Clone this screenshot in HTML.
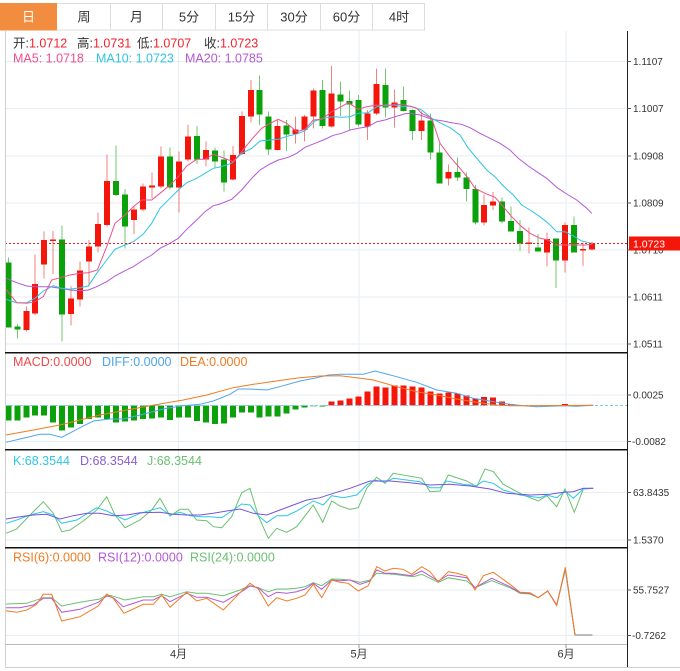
<!DOCTYPE html>
<html><head><meta charset="utf-8"><style>
html,body{margin:0;padding:0;background:#fff;}
svg{display:block;font-family:"Liberation Sans","Noto Sans CJK SC",sans-serif;}
.g{stroke:#e6edf3;stroke-width:1;}
.r{fill:#f4160b;}
.gr{fill:#0ba10b;}
.rw{stroke:#f2827c;stroke-width:1;}
.gw{stroke:#72c872;stroke-width:1;}
.ax{font-size:10px;fill:#333;}
.lg{font-size:12.5px;}
</style></head><body>
<svg width="680" height="671" viewBox="0 0 680 671" xmlns="http://www.w3.org/2000/svg">
<rect x="0" y="0" width="680" height="671" fill="#fff"/>
<!-- Tabs -->
<g shape-rendering="crispEdges">
<rect x="0.5" y="3.5" width="424" height="26.5" fill="#fff" stroke="#dcdcdc"/>
<rect x="0" y="3" width="57" height="27.5" fill="#f28d40"/>
<line x1="110.5" y1="4" x2="110.5" y2="30" stroke="#dcdcdc"/>
<line x1="162.5" y1="4" x2="162.5" y2="30" stroke="#dcdcdc"/>
<line x1="215.5" y1="4" x2="215.5" y2="30" stroke="#dcdcdc"/>
<line x1="267.5" y1="4" x2="267.5" y2="30" stroke="#dcdcdc"/>
<line x1="320.5" y1="4" x2="320.5" y2="30" stroke="#dcdcdc"/>
<line x1="372.5" y1="4" x2="372.5" y2="30" stroke="#dcdcdc"/>
</g>
<g font-size="13" text-anchor="middle">
<text x="28.5" y="21.5" fill="#fff">日</text>
<text x="84" y="21.5" fill="#333">周</text>
<text x="136.5" y="21.5" fill="#333">月</text>
<text x="189" y="21.5" fill="#333">5分</text>
<text x="241.5" y="21.5" fill="#333">15分</text>
<text x="294" y="21.5" fill="#333">30分</text>
<text x="346.5" y="21.5" fill="#333">60分</text>
<text x="399" y="21.5" fill="#333">4时</text>
</g>

<!-- Grid -->
<g shape-rendering="crispEdges">
<line class="g" x1="5" y1="61.7" x2="627" y2="61.7"/>
<line class="g" x1="5" y1="108.7" x2="627" y2="108.7"/>
<line class="g" x1="5" y1="156" x2="627" y2="156"/>
<line class="g" x1="5" y1="203" x2="627" y2="203"/>
<line class="g" x1="5" y1="249.8" x2="627" y2="249.8"/>
<line class="g" x1="5" y1="297" x2="627" y2="297"/>
<line class="g" x1="5" y1="344" x2="627" y2="344"/>
<line class="g" x1="5" y1="395" x2="627" y2="395"/>
<line class="g" x1="5" y1="441.7" x2="627" y2="441.7"/>
<line class="g" x1="5" y1="492.3" x2="627" y2="492.3"/>
<line class="g" x1="5" y1="540" x2="627" y2="540"/>
<line class="g" x1="5" y1="590" x2="627" y2="590"/>
<line class="g" x1="5" y1="635.7" x2="627" y2="635.7"/>
<line class="g" x1="178.5" y1="31" x2="178.5" y2="644"/>
<line class="g" x1="359" y1="31" x2="359" y2="644"/>
<line class="g" x1="566" y1="31" x2="566" y2="644"/>
</g>

<!-- Candles -->
<g shape-rendering="crispEdges">
<line class="gw" x1="8.3" y1="257.3" x2="8.3" y2="327.7"/><rect class="gr" x="5.3" y="262.7" width="6" height="65"/>
<line class="gw" x1="17.3" y1="324" x2="17.3" y2="338.3"/><rect class="gr" x="14.3" y="326.7" width="6" height="2.6"/>
<line class="rw" x1="26.3" y1="306.7" x2="26.3" y2="331.7"/><rect class="r" x="23.3" y="311" width="6" height="19"/>
<line class="rw" x1="35.2" y1="254.3" x2="35.2" y2="315"/><rect class="r" x="32.2" y="284" width="6" height="29.3"/>
<line class="rw" x1="44.2" y1="231.7" x2="44.2" y2="278.3"/><rect class="r" x="41.2" y="240" width="6" height="24.3"/>
<line class="rw" x1="53.2" y1="231" x2="53.2" y2="274"/><rect class="r" x="50.2" y="239.3" width="6" height="1.6"/>
<line class="gw" x1="62.2" y1="225.7" x2="62.2" y2="341.7"/><rect class="gr" x="59.2" y="239.3" width="6" height="75"/>
<line class="rw" x1="71.2" y1="286" x2="71.2" y2="325.7"/><rect class="r" x="68.2" y="298.3" width="6" height="15.7"/>
<line class="rw" x1="80.1" y1="261.7" x2="80.1" y2="306.7"/><rect class="r" x="77.1" y="270.7" width="6" height="28.6"/>
<line class="rw" x1="89.1" y1="240" x2="89.1" y2="286.7"/><rect class="r" x="86.1" y="246.7" width="6" height="15"/>
<line class="rw" x1="98.1" y1="212.7" x2="98.1" y2="252.7"/><rect class="r" x="95.1" y="224" width="6" height="22.7"/>
<line class="rw" x1="107.1" y1="154.3" x2="107.1" y2="226.7"/><rect class="r" x="104.1" y="181" width="6" height="44"/>
<line class="gw" x1="116.1" y1="145.7" x2="116.1" y2="196"/><rect class="gr" x="113.1" y="181" width="6" height="14"/>
<line class="gw" x1="125" y1="189" x2="125" y2="248.3"/><rect class="gr" x="122" y="194.3" width="6" height="32.4"/>
<line class="rw" x1="134" y1="206.7" x2="134" y2="234"/><rect class="r" x="131" y="209.3" width="6" height="10.7"/>
<line class="rw" x1="143" y1="183.3" x2="143" y2="211.7"/><rect class="r" x="140" y="186.7" width="6" height="22.6"/>
<line class="rw" x1="152" y1="172.7" x2="152" y2="198.3"/><rect class="r" x="149" y="185.7" width="6" height="2"/>
<line class="rw" x1="161" y1="146.7" x2="161" y2="188.3"/><rect class="r" x="158" y="156.7" width="6" height="30"/>
<line class="gw" x1="169.9" y1="147.3" x2="169.9" y2="189.3"/><rect class="gr" x="166.9" y="156.7" width="6" height="30.6"/>
<line class="rw" x1="178.9" y1="151.7" x2="178.9" y2="212.7"/><rect class="r" x="175.9" y="161.7" width="6" height="26"/>
<line class="rw" x1="187.9" y1="124.3" x2="187.9" y2="161.7"/><rect class="r" x="184.9" y="136.7" width="6" height="22.6"/>
<line class="gw" x1="196.9" y1="126" x2="196.9" y2="164"/><rect class="gr" x="193.9" y="136" width="6" height="23.3"/>
<line class="rw" x1="205.9" y1="141.7" x2="205.9" y2="166.7"/><rect class="r" x="202.9" y="150" width="6" height="9.3"/>
<line class="gw" x1="214.8" y1="147.3" x2="214.8" y2="168.3"/><rect class="gr" x="211.8" y="150.7" width="6" height="11"/>
<line class="gw" x1="223.8" y1="150.7" x2="223.8" y2="191.7"/><rect class="gr" x="220.8" y="159.3" width="6" height="23.4"/>
<line class="rw" x1="232.8" y1="146" x2="232.8" y2="180.7"/><rect class="r" x="229.8" y="155" width="6" height="24.3"/>
<line class="rw" x1="241.8" y1="111.7" x2="241.8" y2="155"/><rect class="r" x="238.8" y="116" width="6" height="38"/>
<line class="rw" x1="250.8" y1="80" x2="250.8" y2="122.7"/><rect class="r" x="247.8" y="90" width="6" height="26.7"/>
<line class="gw" x1="259.7" y1="75.7" x2="259.7" y2="125"/><rect class="gr" x="256.7" y="90" width="6" height="24.3"/>
<line class="gw" x1="268.7" y1="111.7" x2="268.7" y2="155"/><rect class="gr" x="265.7" y="116.7" width="6" height="32.6"/>
<line class="rw" x1="277.7" y1="119.3" x2="277.7" y2="150.7"/><rect class="r" x="274.7" y="126" width="6" height="24"/>
<line class="gw" x1="286.7" y1="120" x2="286.7" y2="151"/><rect class="gr" x="283.7" y="125.7" width="6" height="8.6"/>
<line class="rw" x1="295.6" y1="116.7" x2="295.6" y2="143.3"/><rect class="r" x="292.6" y="129.3" width="6" height="4.7"/>
<line class="rw" x1="304.6" y1="115" x2="304.6" y2="141.7"/><rect class="r" x="301.6" y="116.7" width="6" height="13.3"/>
<line class="rw" x1="313.6" y1="88.3" x2="313.6" y2="128.3"/><rect class="r" x="310.6" y="90.7" width="6" height="26"/>
<line class="gw" x1="322.6" y1="80" x2="322.6" y2="128.3"/><rect class="gr" x="319.6" y="90" width="6" height="36"/>
<line class="rw" x1="331.6" y1="66" x2="331.6" y2="127.7"/><rect class="r" x="328.6" y="93.3" width="6" height="33.4"/>
<line class="gw" x1="340.6" y1="81.7" x2="340.6" y2="116"/><rect class="gr" x="337.6" y="94.3" width="6" height="7.4"/>
<line class="gw" x1="349.5" y1="90.7" x2="349.5" y2="130"/><rect class="gr" x="346.5" y="101" width="6" height="3.3"/>
<line class="gw" x1="358.5" y1="95" x2="358.5" y2="126.7"/><rect class="gr" x="355.5" y="100" width="6" height="24.3"/>
<line class="rw" x1="367.5" y1="110" x2="367.5" y2="140"/><rect class="r" x="364.5" y="113.3" width="6" height="13.4"/>
<line class="rw" x1="376.5" y1="68.3" x2="376.5" y2="115"/><rect class="r" x="373.5" y="84" width="6" height="29.3"/>
<line class="gw" x1="385.5" y1="68.3" x2="385.5" y2="117.7"/><rect class="gr" x="382.5" y="85" width="6" height="22.7"/>
<line class="rw" x1="394.4" y1="89.3" x2="394.4" y2="127.7"/><rect class="r" x="391.4" y="102.7" width="6" height="4.6"/>
<line class="gw" x1="403.4" y1="86.7" x2="403.4" y2="111.7"/><rect class="gr" x="400.4" y="100" width="6" height="11"/>
<line class="gw" x1="412.4" y1="109.3" x2="412.4" y2="140"/><rect class="gr" x="409.4" y="110" width="6" height="21"/>
<line class="rw" x1="421.4" y1="111.7" x2="421.4" y2="140"/><rect class="r" x="418.4" y="120.7" width="6" height="10.3"/>
<line class="gw" x1="430.4" y1="113.3" x2="430.4" y2="159.3"/><rect class="gr" x="427.4" y="120.7" width="6" height="31.6"/>
<line class="gw" x1="439.3" y1="143.3" x2="439.3" y2="183.7"/><rect class="gr" x="436.3" y="152.3" width="6" height="31.4"/>
<line class="rw" x1="448.3" y1="164.3" x2="448.3" y2="185.3"/><rect class="r" x="445.3" y="172" width="6" height="6.7"/>
<line class="gw" x1="457.3" y1="157.3" x2="457.3" y2="181"/><rect class="gr" x="454.3" y="172" width="6" height="5.7"/>
<line class="gw" x1="466.3" y1="172.7" x2="466.3" y2="201.7"/><rect class="gr" x="463.3" y="177.3" width="6" height="11.7"/>
<line class="gw" x1="475.3" y1="185" x2="475.3" y2="224.3"/><rect class="gr" x="472.3" y="189" width="6" height="33.3"/>
<line class="rw" x1="484.2" y1="194.3" x2="484.2" y2="225.7"/><rect class="r" x="481.2" y="205" width="6" height="17.3"/>
<line class="rw" x1="493.2" y1="192" x2="493.2" y2="210"/><rect class="r" x="490.2" y="201.3" width="6" height="4.4"/>
<line class="gw" x1="502.2" y1="197.3" x2="502.2" y2="223.3"/><rect class="gr" x="499.2" y="201.3" width="6" height="20.4"/>
<line class="gw" x1="511.2" y1="206.7" x2="511.2" y2="231.7"/><rect class="gr" x="508.2" y="221" width="6" height="10.7"/>
<line class="gw" x1="520.2" y1="220" x2="520.2" y2="251"/><rect class="gr" x="517.2" y="231" width="6" height="12.3"/>
<line class="rw" x1="529.1" y1="227.7" x2="529.1" y2="253.3"/><rect class="r" x="526.1" y="242.3" width="6" height="1.6"/>
<line class="gw" x1="538.1" y1="234" x2="538.1" y2="251.7"/><rect class="gr" x="535.1" y="247.3" width="6" height="4.4"/>
<line class="rw" x1="547.1" y1="232.7" x2="547.1" y2="266.7"/><rect class="r" x="544.1" y="239" width="6" height="13.3"/>
<line class="gw" x1="556.1" y1="238.3" x2="556.1" y2="288"/><rect class="gr" x="553.1" y="238.3" width="6" height="22.4"/>
<line class="rw" x1="565.1" y1="222.3" x2="565.1" y2="272.3"/><rect class="r" x="562.1" y="225" width="6" height="35.7"/>
<line class="gw" x1="574" y1="216.7" x2="574" y2="252.7"/><rect class="gr" x="571" y="225" width="6" height="27.7"/>
<line class="rw" x1="583" y1="242.7" x2="583" y2="266"/><rect class="r" x="580" y="249" width="6" height="1.6"/>
<line class="rw" x1="592" y1="241.7" x2="592" y2="250.7"/><rect class="r" x="589" y="243.3" width="6" height="6"/>
</g>

<!-- MA lines -->
<g fill="none" stroke-width="1">
<polyline stroke="#b458d6" points="6,278.3 16.7,282.7 26.7,286 36.7,286.7 50,286.7 60,288.3 70,290 80,290.7 88.3,290 96.7,286.7 106.7,281.7 115,276 125,270.7 133.3,266.7 143.3,260 151.7,255 160,248.3 170,243.3 178.3,238.3 186.7,229.3 196.7,220 205,211.7 213.3,205.7 220,204 231.7,199.3 241.7,190 251.7,178.3 260,170 270,164 278.3,160 288.3,157.3 296.7,153.3 305,147.3 315,143.3 323.3,140 333.3,135.3 341.7,133.3 350,130 358.3,128.3 368.3,126.7 376.7,121.7 385,120 395,116.7 405,113.8 410,113.3 420,115 431.7,119.3 441.7,120.7 451.7,122.7 461.7,124.3 470,127.7 480,133.3 490,138.3 500,143.3 510,150 518.3,158.3 528.3,166 536.7,171.7 546.7,178.3 556.7,187.3 566.7,194 576.7,200 586.7,208.3 591.7,213.3"/>
<polyline stroke="#2fc5e2" points="6,299.3 16.7,302.7 26.7,302.7 35,298.3 43.3,291 53.3,285.7 61.7,288.3 70,289.3 80,287.7 88.3,286 96.7,273.3 106.7,260 115,249.3 125,245 133.3,241.7 143.3,234 151.7,223.3 160,208.3 170,198.3 178.3,190 186.7,182.7 196.7,178.3 205,173.3 213.3,168.3 220,167 231.7,163.3 241.7,153.3 251.7,148.3 260,141 270,140 278.3,139.3 288.3,136 296.7,134 305,130.7 315,121 323.3,118.3 333.3,116.7 341.7,117.3 350,116.7 358.3,113.3 368.3,112.7 376.7,106.7 385,105 393.3,105 403.3,106.7 410,106 421.7,110 431.7,118.3 440,122.7 450,127.7 460,135 468.3,148.3 478.3,160 486.7,170 495,176.7 503.3,186 513.3,195 521.7,205 530,210 540,216.7 548.3,223.3 556.7,231.7 565,231.7 573.3,236 581.7,241 591.7,243.3"/>
<polyline stroke="#f0508c" points="6,289.3 16.7,302.7 26.7,303.3 35,301.7 43.3,296.7 51.7,280 61.7,277.3 70,275 80,273.3 88.3,272.7 97.3,270 106.7,246.7 115,223.3 125,215 133.3,206.7 141.7,200 151.7,200 160,193.3 170,185 178.3,176.7 186.7,166 196.7,159.3 205,159.3 213.3,154.3 220,156.7 233.3,161.7 241.7,151.7 251.7,139.3 261.7,128.3 270,123.3 278.3,119.3 286.7,123.3 296.7,131.7 305,129.3 313.3,120 321.7,119.3 331.7,111.7 340,107.3 348.3,102.7 358.3,109.3 366.7,106.7 376.7,105 386.7,106 395,104 405,105 416.7,108.3 421.7,113.3 431.7,118.3 440,143.3 450,156.7 460,168.3 468.3,178.3 475,188.3 485,193.3 495,197.3 503.3,206.7 511.7,216.7 521.7,226.7 530,233.3 540,238.3 548.3,240 556.7,245 566.7,245 575,245 585,245 591.7,244.3"/>
</g>

<!-- Current price dotted line -->
<line x1="5" y1="243.5" x2="627" y2="243.5" stroke="#e02020" stroke-width="1" stroke-dasharray="2,2"/>

<!-- MACD -->
<g shape-rendering="crispEdges">
<rect class="gr" x="5.3" y="405.5" width="6" height="15.2"/>
<rect class="gr" x="14.3" y="405.5" width="6" height="15.2"/>
<rect class="gr" x="23.3" y="405.5" width="6" height="12.2"/>
<rect class="gr" x="32.2" y="405.5" width="6" height="10.2"/>
<rect class="gr" x="41.2" y="405.5" width="6" height="10.2"/>
<rect class="gr" x="50.2" y="405.5" width="6" height="16.8"/>
<rect class="gr" x="59.2" y="405.5" width="6" height="25.2"/>
<rect class="gr" x="68.2" y="405.5" width="6" height="22.2"/>
<rect class="gr" x="77.1" y="405.5" width="6" height="18.5"/>
<rect class="gr" x="86.1" y="405.5" width="6" height="13.5"/>
<rect class="gr" x="95.1" y="405.5" width="6" height="12.2"/>
<rect class="gr" x="104.1" y="405.5" width="6" height="13.5"/>
<rect class="gr" x="113.1" y="405.5" width="6" height="17.2"/>
<rect class="gr" x="122" y="405.5" width="6" height="16.2"/>
<rect class="gr" x="131" y="405.5" width="6" height="15.2"/>
<rect class="gr" x="140" y="405.5" width="6" height="13.5"/>
<rect class="gr" x="149" y="405.5" width="6" height="12.8"/>
<rect class="gr" x="158" y="405.5" width="6" height="11.8"/>
<rect class="gr" x="166.9" y="405.5" width="6" height="14.5"/>
<rect class="gr" x="175.9" y="405.5" width="6" height="12.2"/>
<rect class="gr" x="184.9" y="405.5" width="6" height="12.2"/>
<rect class="gr" x="193.9" y="405.5" width="6" height="15.5"/>
<rect class="gr" x="202.9" y="405.5" width="6" height="17.2"/>
<rect class="gr" x="211.8" y="405.5" width="6" height="18.5"/>
<rect class="gr" x="220.8" y="405.5" width="6" height="17.8"/>
<rect class="gr" x="229.8" y="405.5" width="6" height="12.2"/>
<rect class="gr" x="238.8" y="405.5" width="6" height="7.2"/>
<rect class="gr" x="247.8" y="405.5" width="6" height="7.2"/>
<rect class="gr" x="256.7" y="405.5" width="6" height="12.2"/>
<rect class="gr" x="265.7" y="405.5" width="6" height="11.2"/>
<rect class="gr" x="274.7" y="405.5" width="6" height="11.2"/>
<rect class="gr" x="283.7" y="405.5" width="6" height="7.8"/>
<rect class="gr" x="292.6" y="405.5" width="6" height="3.8"/>
<rect class="gr" x="301.6" y="405.5" width="6" height="2.2"/>
<rect x="310.6" y="405.5" width="6" height="1" fill="#7cc87c"/>
<rect class="gr" x="319.6" y="405.5" width="6" height="1.2"/>
<rect class="r" x="328.6" y="401.7" width="6" height="3.8"/>
<rect class="r" x="337.6" y="400.7" width="6" height="4.8"/>
<rect class="r" x="346.5" y="398.3" width="6" height="7.2"/>
<rect class="r" x="355.5" y="396.7" width="6" height="8.8"/>
<rect class="r" x="364.5" y="391.7" width="6" height="13.8"/>
<rect class="r" x="373.5" y="386.7" width="6" height="18.8"/>
<rect class="r" x="382.5" y="387.3" width="6" height="18.2"/>
<rect class="r" x="391.4" y="385.7" width="6" height="19.8"/>
<rect class="r" x="400.4" y="385.7" width="6" height="19.8"/>
<rect class="r" x="409.4" y="386.7" width="6" height="18.8"/>
<rect class="r" x="418.4" y="387.3" width="6" height="18.2"/>
<rect class="r" x="427.4" y="391.7" width="6" height="13.8"/>
<rect class="r" x="436.3" y="393.7" width="6" height="11.8"/>
<rect class="r" x="445.3" y="392.3" width="6" height="13.2"/>
<rect class="r" x="454.3" y="393.7" width="6" height="11.8"/>
<rect class="r" x="463.3" y="395.7" width="6" height="9.8"/>
<rect class="r" x="472.3" y="398.3" width="6" height="7.2"/>
<rect class="r" x="481.2" y="397" width="6" height="8.5"/>
<rect class="r" x="490.2" y="397.7" width="6" height="7.8"/>
<rect class="r" x="499.2" y="401.7" width="6" height="3.8"/>
<rect class="r" x="508.2" y="404" width="6" height="1.5"/>
<rect class="r" x="562.1" y="404" width="6" height="1.5"/>
</g>
<line x1="5" y1="405.5" x2="627" y2="405.5" stroke="#7fcde8" stroke-width="1" stroke-dasharray="3,2"/>
<g fill="none" stroke-width="1">
<polyline stroke="#4da6f0" points="6,442.3 20,439 40,434.3 50,434.3 61.7,437.3 80,427.7 93.3,421 110,419 123.3,419 140,415 166.7,408.3 183.3,405.7 200,404.3 213.3,401 230,394.3 238.3,389 250,389 266.7,390 283.3,385.7 300,381 316.7,377.7 328.3,375 340,374.3 363.3,374.3 375,371 396.7,376.7 416.7,382.3 436.7,390 456.7,393.3 473.3,398.3 496.7,402.3 510,404.3 523.3,405.7 536.7,406.7 556.7,406 563.3,405.7 576.7,406.3 593.3,405.3"/>
<polyline stroke="#f27b22" points="6,435 33.3,430 60,425 80,420 100,415 126.7,410 150,405.7 183.3,400 206.7,395 233.3,387.7 253.3,384.3 283.3,380 300,377.7 320,376 340,375.7 356.7,377.7 373.3,380 396.7,386.7 416.7,391.7 436.7,395 456.7,399 476.7,402.3 496.7,405 510,405.7 530,405.7 593.3,405.3"/>
</g>

<!-- KDJ -->
<g fill="none" stroke-width="1">
<polyline stroke="#6cc070" points="6,533.3 16.7,529 30,515 43.3,501.7 53.3,513.3 61.7,531.7 70,530 83.3,521 96.7,510 106.7,496.7 115,515 125,527.7 140,520 151.7,510 160,498.3 170,516 180,509.3 188.3,509.3 196.7,520 206.7,520.7 213.3,526.7 221.7,527.7 231.7,516.7 241.7,492.7 250,488.3 258.3,516 268.3,538.3 276.7,528.3 286.7,532.3 296.7,526.7 313.3,505 322.7,522.3 331.7,501 340,506 350,509.3 358.3,507.7 366.7,488.3 376.7,477.3 385,483.3 393.3,473.3 421.7,478.3 430,491.7 440,491 448.3,475 466.7,481 476.7,486.7 485,469 493.3,471.7 503.3,484.3 523.3,495 538.3,501 546.7,495.7 556.7,506.7 565,489 574.3,512.3 583.3,489 593.3,488.3"/>
<polyline stroke="#2ec7e6" points="6,523.3 16.7,520 30,515 43.3,511.7 53.3,515 61.7,523.3 76.7,520 96.7,507.7 106.7,511 115,515 125,520 140,513.3 160,507.7 170,515 180,512.3 190,515.7 200,516.7 210,516.7 221.7,517.7 233.3,510 241.7,504 250,505 258.3,515.7 266.7,522.7 276.7,515.7 286.7,515.7 296.7,511 313.3,501 323.3,505 331.7,495.7 343.3,497.7 356.7,495 366.7,485 375,480 385,482.3 393.3,478.3 420,481.7 430,487.7 440,487.7 446.7,481 463.3,484.3 476.7,485.7 483.3,481 493.3,483.3 503.3,490 520,495 540,497.7 546.7,495 556.7,497.7 565,491 573.3,498.3 583.3,489 593.3,488.3"/>
<polyline stroke="#7b52d6" points="6,519 20,516.7 33.3,515 46.7,514.3 60,519 73.3,515.7 86.7,513.3 100,513.3 113.3,515.7 126.7,515 140,512.7 160,512.3 173.3,514.3 186.7,515 200,515 213.3,513.3 226.7,511 240,509 253.3,513.3 266.7,515 280,510 293.3,505 306.7,500 320,497.7 333.3,493.3 350,488.3 370,481 390,481 410,482.7 430,485 450,484.3 470,486 490,489 506.7,493.3 530,495 550,494.3 563.3,492.3 573.3,491.7 583.3,488.3 593.3,488.3"/>
</g>

<!-- RSI -->
<g fill="none" stroke-width="1">
<polyline stroke="#6cc070" points="6,604 26.7,603.3 43.3,597.7 51.7,597.7 61.7,606 80,602.3 100,599 106.7,595 111.7,595.7 125,600 143.3,596.7 153.3,596.7 161.7,594.3 170,596.7 186.7,591.7 196.7,593.3 206.7,593.3 223.3,595.7 240,590 250,585.7 258.3,587.7 268.3,591.7 276.7,589 286.7,589 296.7,588.3 305,586.7 313.3,582.7 321.7,585.7 331.7,579 340,579.3 350,580 360,582.3 370,580 376.7,573.3 393.3,574.3 413.3,576.7 421.7,574.3 438.3,582.3 448.3,577.7 466.7,581 475,587.7 491.7,580.7 510,587.7 520,593.3 530,594 538.3,597.7 547.7,591 556.7,605 565.3,570 575,635 592.3,635"/>
<polyline stroke="#b458d6" points="6,607.7 20,607.7 33.3,605 43.3,598.3 51.7,598.3 61.7,612.3 80,609.3 98.3,602.3 106.7,596 113.3,597.7 123.3,606.7 143.3,600 153.3,600 161.7,595.7 170,601.7 186.7,593.3 196.7,597.3 206.7,597.3 223.3,602.3 240,592.7 250,586 258.3,587.7 268.3,596.7 276.7,592.3 286.7,593.3 296.7,591.7 305,589 313.3,583.3 321.7,589.3 331.7,580 340,580.7 350,580 360,584.3 370,581 376.7,570 385,573.3 393.3,573.3 411.7,575.7 421.7,571 438.3,581 448.3,575 466.7,577.7 475,587.7 491.7,578.3 510,586.7 520,592.7 530,593.3 538.3,597.7 547.7,591 556.7,605 565.3,568.3 575,635 592.3,635"/>
<polyline stroke="#f27b22" points="6,610.7 16.7,612.3 26.7,610 36.7,604.3 43.3,594.3 51.7,594.3 61.7,621 80,616.7 98.3,606 106.7,594 113.3,598.3 124,613.3 143.3,604.3 153.3,604.3 161.7,595 170,607.3 186.7,592.3 196.7,601 206.7,598.3 223.3,610 240,592.7 250,583.3 258.3,589 268.3,606 276.7,597.7 286.7,601 296.7,598.3 305,595 313.3,584.3 321.7,597.7 331.7,580 340,582.3 348.3,583.3 358.3,591 368.3,585.7 376.7,566.7 385,571 393.3,568.3 403.3,569.3 411.7,574.3 421.7,566.7 430,571.7 438.3,581.7 448.3,571.7 456.7,573.3 466.7,576 475,590 483.3,575.7 493.3,572.3 510,584.3 520,592.3 530,592.7 538.3,597.7 547.7,591 556.7,605.7 565.3,567.3 575,635 592.3,635"/>
<line x1="575" y1="635" x2="592.3" y2="635" stroke="#a8a8a0" stroke-width="1.5"/>
</g>

<!-- Frame / separators -->
<g shape-rendering="crispEdges">
<line x1="5.5" y1="31" x2="5.5" y2="667" stroke="#d0d0d0"/>
<line x1="5" y1="352.5" x2="627" y2="352.5" stroke="#111" stroke-width="1.5"/>
<line x1="5" y1="449.5" x2="627" y2="449.5" stroke="#111" stroke-width="1.5"/>
<line x1="5" y1="547.5" x2="627" y2="547.5" stroke="#111" stroke-width="1.5"/>
<line x1="5" y1="644.5" x2="627" y2="644.5" stroke="#bdbdbd"/>
<line x1="5" y1="667.5" x2="680" y2="667.5" stroke="#d0d0d0"/>
<line x1="627.5" y1="31" x2="627.5" y2="667" stroke="#222"/>
<line x1="178.5" y1="644" x2="178.5" y2="648" stroke="#999"/>
<line x1="359" y1="644" x2="359" y2="648" stroke="#999"/>
<line x1="566" y1="644" x2="566" y2="648" stroke="#999"/>
<!-- axis ticks -->
<g stroke="#555">
<line x1="627" y1="61.7" x2="631" y2="61.7"/>
<line x1="627" y1="108.7" x2="631" y2="108.7"/>
<line x1="627" y1="156" x2="631" y2="156"/>
<line x1="627" y1="203" x2="631" y2="203"/>
<line x1="627" y1="249.8" x2="631" y2="249.8"/>
<line x1="627" y1="297" x2="631" y2="297"/>
<line x1="627" y1="344" x2="631" y2="344"/>
<line x1="627" y1="395" x2="631" y2="395"/>
<line x1="627" y1="441.7" x2="631" y2="441.7"/>
<line x1="627" y1="492.3" x2="631" y2="492.3"/>
<line x1="627" y1="540" x2="631" y2="540"/>
<line x1="627" y1="590" x2="631" y2="590"/>
<line x1="627" y1="635.7" x2="631" y2="635.7"/>
</g>
</g>

<!-- Axis labels -->
<g class="ax">
<text x="633" y="65.2">1.1107</text>
<text x="633" y="112.2">1.1007</text>
<text x="633" y="159.5">1.0908</text>
<text x="633" y="206.5">1.0809</text>
<text x="633" y="253.5">1.0710</text>
<text x="633" y="300.5">1.0611</text>
<text x="633" y="347.5">1.0511</text>
<text x="633" y="398.5">0.0025</text>
<text x="632" y="445.2">-0.0082</text>
<text x="633" y="495.8">63.8435</text>
<text x="633" y="543.5">1.5370</text>
<text x="633" y="593.5">55.7527</text>
<text x="632" y="639.2">-0.7262</text>
</g>
<rect x="629" y="236.5" width="51" height="14" fill="#f4160b"/>
<text x="633" y="247.3" font-size="10.5" fill="#fff">1.0723</text>

<g font-size="11" fill="#333" text-anchor="middle">
<text x="178.5" y="657.5">4月</text>
<text x="359" y="657.5">5月</text>
<text x="566" y="657.5">6月</text>
</g>

<!-- Legends -->
<g class="lg">
<text x="13" y="47.5"><tspan fill="#333">开:</tspan><tspan fill="#f5222d">1.0712</tspan></text>
<text x="77" y="47.5"><tspan fill="#333">高:</tspan><tspan fill="#f5222d">1.0731</tspan></text>
<text x="137" y="47.5"><tspan fill="#333">低:</tspan><tspan fill="#f5222d">1.0707</tspan></text>
<text x="204" y="47.5"><tspan fill="#333">收:</tspan><tspan fill="#f5222d">1.0723</tspan></text>
<text x="13" y="62.5" fill="#f0508c">MA5: 1.0718</text>
<text x="96" y="62.5" fill="#2fc5e2">MA10: 1.0723</text>
<text x="185" y="62.5" fill="#b458d6">MA20: 1.0785</text>
<text x="13" y="366" fill="#f04848">MACD:0.0000</text>
<text x="102" y="366" fill="#4da6f0">DIFF:0.0000</text>
<text x="180" y="366" fill="#f27b22">DEA:0.0000</text>
<text x="13" y="465" fill="#2ec7e6">K:68.3544</text>
<text x="80" y="465" fill="#8a5fd0">D:68.3544</text>
<text x="147" y="465" fill="#6cc070">J:68.3544</text>
<text x="13" y="561.5" fill="#f27b22">RSI(6):0.0000</text>
<text x="98" y="561.5" fill="#b458d6">RSI(12):0.0000</text>
<text x="190" y="561.5" fill="#6cc070">RSI(24):0.0000</text>
</g>
</svg>
</body></html>
